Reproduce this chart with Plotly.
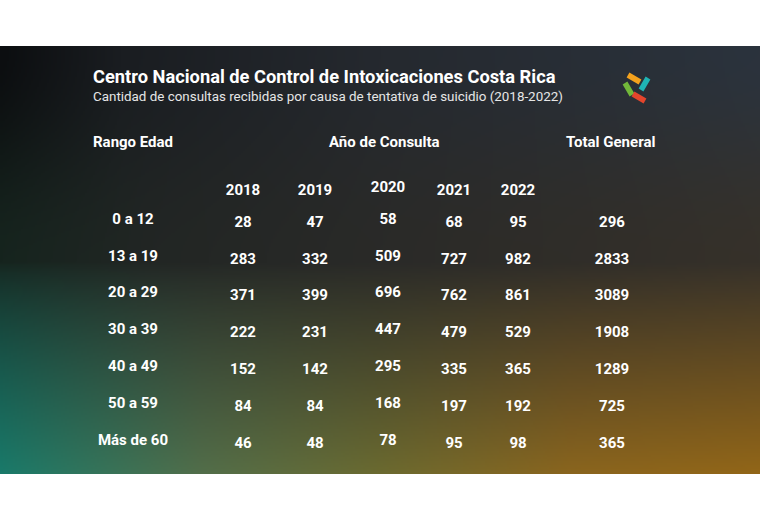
import base64
import struct
import zlib

import numpy as np
import plotly.graph_objects as go

# ---------------- data ----------------
age_ranges = ["0 a 12", "13 a 19", "20 a 29", "30 a 39", "40 a 49", "50 a 59", "Más de 60"]
years = ["2018", "2019", "2020", "2021", "2022"]
v2018 = [28, 283, 371, 222, 152, 84, 46]
v2019 = [47, 332, 399, 231, 142, 84, 48]
v2020 = [58, 509, 696, 447, 295, 168, 78]
v2021 = [68, 727, 762, 479, 335, 197, 95]
v2022 = [95, 982, 861, 529, 365, 192, 98]
totals = [296, 2833, 3089, 1908, 1289, 725, 365]

title = "Centro Nacional de Control de Intoxicaciones Costa Rica"
subtitle = "Cantidad de consultas recibidas por causa de tentativa de suicidio (2018-2022)"
head_age = "Rango Edad"
head_year = "Año de Consulta"
head_total = "Total General"

# ---------------- layout constants (pixel space) ----------------
W, H = 760, 520
PANEL_TOP, PANEL_BOT = 46, 474
COL_LABEL = 133
COL_YEARS = [243, 315, 388, 454, 518]
COL_TOTAL = 612
YEAR_OFFSET = [0, 0, -3, 0, 0]
ROW0 = 223
ROW_STEP = 36.8
YEAR_HEAD_Y = 191
HEAD_Y = 142
FONT = "Roboto"


# ---------------- background gradient as PNG ----------------
def lerp_pts(xs, pts, cols):
    out = np.zeros((len(xs), 3))
    for c in range(3):
        out[:, c] = np.interp(xs, pts, [col[c] for col in cols])
    return out


def make_bg(w=380, h=214):
    xs = np.linspace(0, 760, w)
    ys = np.linspace(PANEL_TOP, PANEL_BOT, h)
    top = lerp_pts(xs, [0, 120, 380, 760], [(12, 14, 16), (26, 29, 33), (37, 41, 47), (43, 51, 61)])
    mid = lerp_pts(xs, [0, 150, 380, 760], [(22, 36, 30), (34, 38, 36), (42, 42, 40), (54, 49, 42)])
    bot = lerp_pts(xs, [0, 200, 380, 570, 760],
                   [(26, 122, 106), (82, 110, 74), (107, 106, 48), (138, 101, 30), (146, 102, 24)])
    ymid = 262.0
    pw = np.interp(xs, [0, 380, 760], [0.72, 0.95, 0.95])
    img = np.zeros((h, w, 3))
    for i, y in enumerate(ys):
        if y <= ymid:
            t = (y - PANEL_TOP) / (ymid - PANEL_TOP)
            t = t * t * (3 - 2 * t)
            img[i] = top * (1 - t) + mid * t
        else:
            t = (y - ymid) / (PANEL_BOT - ymid)
            t = (t ** pw)[:, None]
            img[i] = mid * (1 - t) + bot * t
    return np.clip(img, 0, 255).astype(np.uint8)


def png_uri(arr):
    h, w, _ = arr.shape
    raw = b"".join(b"\x00" + arr[r].tobytes() for r in range(h))

    def chunk(tag, data):
        c = struct.pack(">I", len(data)) + tag + data
        return c + struct.pack(">I", zlib.crc32(tag + data) & 0xFFFFFFFF)

    png = b"\x89PNG\r\n\x1a\n"
    png += chunk(b"IHDR", struct.pack(">IIBBBBB", w, h, 8, 2, 0, 0, 0))
    png += chunk(b"IDAT", zlib.compress(raw, 9))
    png += chunk(b"IEND", b"")
    return "data:image/png;base64," + base64.b64encode(png).decode()


bg_uri = png_uri(make_bg())

# ---------------- figure ----------------
fig = go.Figure()
row_y = [ROW0 + i * ROW_STEP for i in range(len(age_ranges))]
cell_font = dict(family=FONT, size=15, color="white", weight="bold")

# age labels
fig.add_trace(go.Scatter(
    x=[COL_LABEL] * len(age_ranges), y=[y - 3 for y in row_y], text=age_ranges,
    mode="text", textposition="middle center", textfont=cell_font, hoverinfo="skip"))

# year headers
fig.add_trace(go.Scatter(
    x=COL_YEARS, y=[YEAR_HEAD_Y + o for o in YEAR_OFFSET], text=years,
    mode="text", textposition="middle center", textfont=cell_font, hoverinfo="skip"))

# yearly values
for col_x, off, vals in zip(COL_YEARS, YEAR_OFFSET, [v2018, v2019, v2020, v2021, v2022]):
    fig.add_trace(go.Scatter(
        x=[col_x] * len(vals), y=[y + off for y in row_y], text=[str(v) for v in vals],
        mode="text", textposition="middle center", textfont=cell_font, hoverinfo="skip"))

# totals
fig.add_trace(go.Scatter(
    x=[COL_TOTAL] * len(totals), y=row_y, text=[str(v) for v in totals],
    mode="text", textposition="middle center", textfont=cell_font, hoverinfo="skip"))

annotations = [
    dict(x=91, y=76, text=title, xanchor="left", yanchor="middle", showarrow=False,
         font=dict(family=FONT, size=18.3, color="white", weight="bold")),
    dict(x=91, y=96, text=subtitle, xanchor="left", yanchor="middle", showarrow=False,
         font=dict(family=FONT, size=13.4, color="#e6e6e6")),
    dict(x=91, y=HEAD_Y, text=head_age, xanchor="left", yanchor="middle", showarrow=False,
         font=dict(family=FONT, size=15, color="white", weight="bold")),
    dict(x=384, y=HEAD_Y, text=head_year, xanchor="center", yanchor="middle", showarrow=False,
         font=dict(family=FONT, size=15, color="white", weight="bold")),
    dict(x=610, y=HEAD_Y, text=head_total, xanchor="center", yanchor="middle", showarrow=False,
         font=dict(family=FONT, size=15, color="white", weight="bold")),
]

# logo (pinwheel of four coloured bars)
logo = [
    ((628, 75), (640, 82), "#f4a21d"),
    ((648, 78), (641, 90), "#1fb3b3"),
    ((625, 83), (632, 95), "#72b83a"),
    ((633, 94), (645, 101), "#e4452c"),
]
shapes = []
for (x0, y0), (x1, y1), col in logo:
    shapes.append(dict(type="line", xref="x", yref="y", x0=x0, y0=y0, x1=x1, y1=y1,
                       line=dict(color=col, width=5.5), layer="above"))

fig.update_layout(
    width=W, height=H,
    margin=dict(l=0, r=0, t=0, b=0),
    paper_bgcolor="white", plot_bgcolor="white",
    showlegend=False,
    xaxis=dict(range=[0, W], visible=False, fixedrange=True),
    yaxis=dict(range=[H, 0], visible=False, fixedrange=True),
    annotations=annotations,
    shapes=shapes,
    images=[dict(source=bg_uri, xref="paper", yref="paper", x=0, y=1 - PANEL_TOP / H,
                 sizex=1, sizey=(PANEL_BOT - PANEL_TOP) / H, xanchor="left", yanchor="top",
                 sizing="stretch", layer="below")],
)

fig.write_html("out.html", config={"displayModeBar": False},
               post_script="document.body.style.margin='0';")
